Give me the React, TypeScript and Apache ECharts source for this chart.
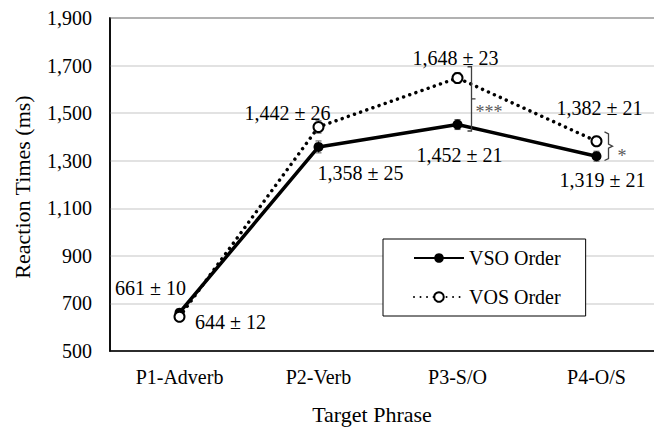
import React, { useEffect, useRef } from 'react';
import * as echarts from 'echarts';

const categories = ['P1-Adverb', 'P2-Verb', 'P3-S/O', 'P4-O/S'];
const vsoMeans = [661, 1358, 1452, 1319];
const vsoErrors = [10, 25, 21, 21];
const vosMeans = [644, 1442, 1648, 1382];
const vosErrors = [12, 26, 23, 21];
const yMin = 500;
const yMax = 1900;
const yStep = 200;
// significance brackets: [category index, low value, high value]
const sigBrackets = [
  [2, 1425, 1695],
  [3, 1301, 1421],
];
const sigLabels = ['***', '*'];

// layout only
const vsoLabelOffsets = [[-29, -25], [42, 26], [2, 30], [6, 24]];
const vosLabelOffsets = [[51, 5], [-31, -14], [-2, -20], [3, -33]];
const bracketKinds = ['square', 'curly'];
const bracketDx = [14, 9];

const FONT = '"Liberation Serif", "Times New Roman", serif';
const fmt = (v: number) => v.toLocaleString('en-US');

export default function App() {
  const ref = useRef<HTMLDivElement>(null);
  useEffect(() => {
    if (!ref.current) return;
    const chart = echarts.init(ref.current, null, { renderer: 'svg' });

    const errSeries = (means: number[], errs: number[]) => ({
      type: 'custom',
      silent: true,
      z: 1,
      data: means.map((v, i) => [i, v - errs[i], v + errs[i]]),
      renderItem: (params: any, api: any) => {
        const lo = api.coord([api.value(0), api.value(1)]);
        const hi = api.coord([api.value(0), api.value(2)]);
        const w = 3;
        const st = { stroke: '#555', lineWidth: 1 };
        return {
          type: 'group',
          children: [
            { type: 'line', shape: { x1: lo[0], y1: lo[1], x2: hi[0], y2: hi[1] }, style: st },
            { type: 'line', shape: { x1: lo[0] - w, y1: lo[1], x2: lo[0] + w, y2: lo[1] }, style: st },
            { type: 'line', shape: { x1: hi[0] - w, y1: hi[1], x2: hi[0] + w, y2: hi[1] }, style: st },
          ],
        };
      },
    });

    const option: any = {
      animation: false,
      grid: {
        left: 110, top: 18, right: -12, bottom: 79,
        outerBoundsMode: 'none', containLabel: false,
        show: true, borderColor: '#000', borderWidth: 1.5,
      },
      xAxis: {
        type: 'category',
        data: categories,
        boundaryGap: true,
        axisLine: { show: true, lineStyle: { color: '#000', width: 1.5 } },
        axisTick: { show: false },
        axisLabel: { fontFamily: FONT, fontSize: 20, color: '#000', margin: 16 },
      },
      yAxis: {
        type: 'value',
        min: yMin,
        max: yMax,
        interval: yStep,
        axisLine: { show: true, lineStyle: { color: '#000', width: 1.5 } },
        axisTick: { show: false },
        axisLabel: { fontFamily: FONT, fontSize: 20, color: '#000', margin: 18, formatter: (v: number) => fmt(v) },
        splitLine: { show: true, lineStyle: { color: '#d9d9d9', width: 1.5 } },
      },
      legend: {
        data: ['VSO Order', 'VOS Order'],
        orient: 'vertical',
        left: 383,
        top: 239,
        itemWidth: 50,
        itemHeight: 12,
        itemGap: 19,
        padding: [9, 25, 9, 30],
        borderColor: '#000',
        borderWidth: 1,
        backgroundColor: '#fff',
        textStyle: { fontFamily: FONT, fontSize: 20, color: '#000' },
      },
      graphic: [
        {
          type: 'text',
          x: 22,
          y: 187,
          rotation: Math.PI / 2,
          style: { text: 'Reaction Times (ms)', fontFamily: FONT, fontSize: 22, fill: '#000', align: 'center', verticalAlign: 'middle' },
        },
        {
          type: 'text',
          x: 372,
          y: 414,
          style: { text: 'Target Phrase', fontFamily: FONT, fontSize: 22, fill: '#000', align: 'center', verticalAlign: 'middle' },
        },
      ],
      series: [
        errSeries(vsoMeans, vsoErrors),
        errSeries(vosMeans, vosErrors),
        {
          name: 'VSO Order',
          type: 'line',
          z: 3,
          symbol: 'circle',
          symbolSize: 10,
          itemStyle: { color: '#000' },
          lineStyle: { color: '#000', width: 3.5 },
          data: vsoMeans.map((v, i) => ({
            value: v,
            label: { offset: vsoLabelOffsets[i], formatter: `${fmt(v)} ± ${vsoErrors[i]}` },
          })),
          label: { show: true, position: 'inside', fontFamily: FONT, fontSize: 20, color: '#000', textBorderWidth: 0 },
        },
        {
          name: 'VOS Order',
          type: 'line',
          z: 4,
          symbol: 'emptyCircle',
          symbolSize: 10,
          itemStyle: { color: '#000', borderWidth: 1.5, borderColor: '#000' },
          lineStyle: { color: '#000', width: 3.5, type: [0.01, 6.5], cap: 'round' },
          data: vosMeans.map((v, i) => ({
            value: v,
            label: { offset: vosLabelOffsets[i], formatter: `${fmt(v)} ± ${vosErrors[i]}` },
          })),
          label: { show: true, position: 'inside', fontFamily: FONT, fontSize: 20, color: '#000', textBorderWidth: 0 },
        },
        {
          type: 'custom',
          silent: true,
          z: 5,
          data: sigBrackets,
          renderItem: (params: any, api: any) => {
            const i = params.dataIndex;
            const lo = api.coord([api.value(0), api.value(1)]);
            const hi = api.coord([api.value(0), api.value(2)]);
            const x = lo[0] + bracketDx[i];
            const top = hi[1];
            const bot = lo[1];
            const mid = (top + bot) / 2;
            const st = { stroke: '#404040', lineWidth: 1.3, fill: null };
            const tst = { fontFamily: FONT, fontSize: 18, fill: '#595959', align: 'left', verticalAlign: 'middle' };
            if (bracketKinds[i] === 'square') {
              return {
                type: 'group',
                children: [
                  { type: 'polyline', shape: { points: [[x - 4, top], [x, top], [x, bot], [x - 4, bot]] }, style: st },
                  { type: 'line', shape: { x1: x, y1: mid, x2: x + 4, y2: mid }, style: st },
                  { type: 'text', x: x + 4, y: mid + 13, style: { ...tst, text: sigLabels[i] } },
                ],
              };
            }
            return {
              type: 'group',
              children: [
                {
                  type: 'polyline',
                  shape: { points: [[x - 1, top], [x + 3, top + 2], [x + 3, mid - 2], [x + 7, mid], [x + 3, mid + 2], [x + 3, bot - 2], [x - 1, bot]] },
                  style: st,
                },
                { type: 'text', x: x + 12, y: mid + 10, style: { ...tst, text: sigLabels[i] } },
              ],
            };
          },
        },
      ],
    };
    chart.setOption(option);
    return () => chart.dispose();
  }, []);
  return <div ref={ref} style={{ position: 'absolute', left: 0, top: 0, width: 654, height: 430 }} />;
}
